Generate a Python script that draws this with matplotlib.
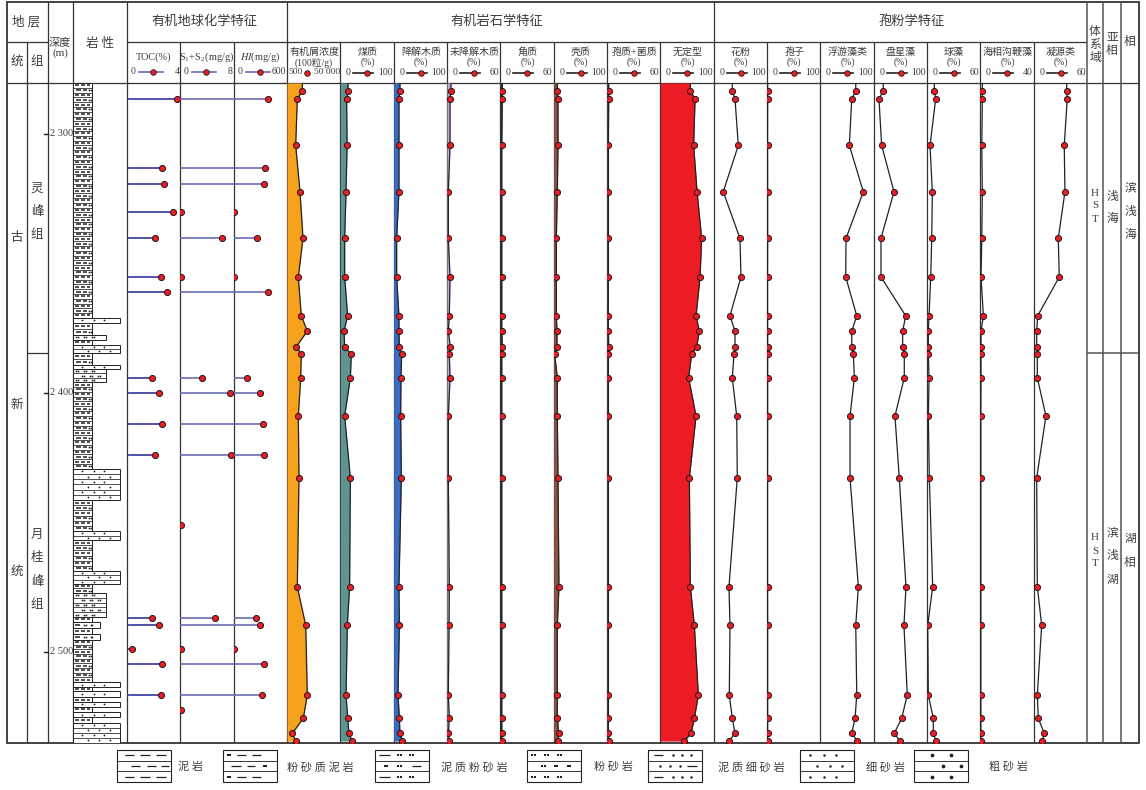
import numpy as np
import matplotlib
matplotlib.use("Agg")
import matplotlib.pyplot as plt
from matplotlib.patches import Rectangle

plt.rcParams['font.family'] = ['Liberation Serif', 'Noto Sans CJK SC', 'DejaVu Sans']
plt.rcParams['mathtext.fontset'] = 'stix'

nan = np.nan
# ---------------------------------------------------------------- data
# organic petrology / palynology samples (depth, m)
petro_depth = [2283.4, 2286.4, 2304.4, 2322.3, 2340.3, 2355.2, 2370.2, 2376.1, 2382.1,
               2385.1, 2394.1, 2408.9, 2432.8, 2474.8, 2489.7, 2516.6, 2525.6, 2531.4, 2534.4]
organic_conc = [14700, 10070, 8580, 12570, 15360, 10990, 13780, 19350, 9140, 13780,
                13220, 10990, 11640, 10070, 17870, 19350, 15640, 5420, 8580]
vitrinite = [14.4, 11.8, 12.6, 10.7, 8.1, 8.1, 13.7, 6.9, 8.1, 20.6,
             18.8, 8.1, 18.8, 17.4, 13.1, 10.7, 13.7, 16.3, 22.0]
degraded_wood = [11.8, 9.9, 9.9, 9.9, 5.6, 5.6, 9.9, 9.9, 10.7, 15.0,
                 13.7, 13.1, 14.4, 9.9, 10.7, 8.1, 10.7, 11.8, 16.3]
undegraded_wood = [4.5, 3.4, 3.4, 1.5, 1.5, 3.4, 2.6, 1.5, 3.7, 2.6,
                   3.4, 1.5, 1.5, 2.6, 2.3, 1.5, 2.6, 1.5, 2.6]
cutinite = [2.2, 2.2, 1.6, 1.6, 1.6, 1.6, 1.6, 1.6, 2.2, 1.6,
            1.6, 1.6, 1.6, 1.6, 1.6, 1.6, 1.6, 1.7, 1.6]
exinite = [6.9, 8.1, 8.1, 6.9, 5.0, 5.0, 5.0, 6.2, 6.2, 1.9,
           6.9, 6.9, 8.1, 9.9, 6.9, 6.9, 6.9, 9.4, 8.1]
sporo_fungal = [1.9, 1.9, 1.6, 1.6, 1.6, 1.6, 1.4, 1.6, 1.9, 1.6,
                1.6, 1.6, 1.6, 1.6, 1.6, 1.6, 1.6, 1.6, 1.9]
amorphous = [56.3, 65.1, 62.5, 68.9, 77.5, 74.5, 67.0, 73.2, 68.1, 58.7,
             53.1, 67.0, 54.4, 56.3, 63.8, 71.3, 63.8, 57.6, 45.0]
pollen = [34.9, 40.0, 46.2, 18.0, 49.3, 51.2, 30.6, 40.0, 40.0, 38.1,
          34.9, 43.2, 44.3, 28.7, 30.6, 29.3, 34.9, 40.0, 28.7]
spores = [1.2, 1.2, 1.0, 1.2, 1.2, 1.0, 1.0, 1.2, 1.2, 1.2,
          1.2, 1.2, 1.0, 1.0, 1.2, 1.2, 1.2, 1.2, 1.2]
plankton_algae = [66.4, 58.9, 54.4, 80.6, 48.2, 47.6, 68.3, 58.9, 58.9, 61.9,
                  63.8, 55.7, 55.7, 71.3, 66.4, 68.3, 65.1, 58.9, 69.4]
pediastrum = [18.0, 9.9, 15.0, 38.1, 13.7, 13.7, 60.0, 54.4, 54.4, 57.4,
              57.4, 39.9, 48.0, 60.6, 56.8, 63.0, 52.5, 38.6, 49.3]
sphaeroids = [8.2, 9.8, 3.4, 6.0, 5.3, 4.2, 2.3, 1.5, 1.5, 1.5,
              2.3, 1.5, 2.6, 6.4, 0.8, 1.5, 7.1, 7.1, 10.1]
dinoflagellates = [1.5, 1.5, 1.1, 1.5, 1.1, 0.5, 2.3, 0.5, 0.5, 0.5,
                   0.5, 0.4, 0.4, 0.4, 0.4, 0.4, 0.4, 0.4, 0.4]
acritarchs = [37.1, 37.8, 34.4, 35.2, 27.7, 28.8, 4.5, 3.4, 3.4, 4.1,
              4.1, 13.8, 3.4, 4.1, 9.0, 4.1, 5.2, 11.9, 9.7]

# organic geochemistry samples
geo_depth = [2286.5, 2313.2, 2319.3, 2330.2, 2340.2, 2355.2, 2361.1, 2394.1, 2399.9,
             2411.9, 2423.9, 2450.8, 2486.8, 2489.7, 2498.7, 2504.6, 2516.5, 2522.5]
toc = [3.73, 2.60, 2.77, 3.48, 2.10, 2.58, 2.98, 1.90, 2.43,
       2.60, 2.10, nan, 1.85, 2.43, 0.40, 2.65, 2.53, nan]
s1s2 = [9.0, 9.0, 9.0, 0.1, 6.25, 0.1, 9.0, 3.25, 7.5,
        9.0, 7.6, 0.1, 5.15, 9.0, 0.1, 9.0, 9.0, 0.1]
hi = [383, 357, 338, 2, 267, 2, 386, 154, 293,
      330, 338, nan, 255, 293, 2, 338, 315, nan]

# lithology beds
litho_top = [2280.3, 2371.0, 2373.0, 2377.6, 2379.5, 2381.5, 2384.6, 2389.2, 2390.7, 2395.8,
             2429.3, 2441.3, 2453.3, 2456.8, 2468.7, 2473.7, 2477.2, 2486.5, 2488.4, 2490.7,
             2493.1, 2495.4, 2511.6, 2513.5, 2515.1, 2517.4, 2519.3, 2521.2, 2523.2, 2525.1,
             2527.4]
litho_bottom = litho_top[1:] + [2535.1]
litho_type = ['粉砂质泥岩', '细砂岩', '粉砂质泥岩', '粉砂岩', '粉砂质泥岩', '细砂岩', '粉砂质泥岩',
              '细砂岩', '粉砂岩', '粉砂质泥岩', '细砂岩', '粉砂质泥岩', '细砂岩', '粉砂质泥岩',
              '细砂岩', '粉砂质泥岩', '粉砂岩', '粉砂质泥岩', '泥质粉砂岩', '粉砂质泥岩',
              '泥质粉砂岩', '粉砂质泥岩', '细砂岩', '粉砂质泥岩', '细砂岩', '粉砂质泥岩',
              '细砂岩', '粉砂质泥岩', '细砂岩', '粉砂质泥岩', '细砂岩']

depth_ticks = [2300, 2400, 2500]
depth_tick_labels = ['2 300', '2 400', '2 500']

geo_names = ['TOC(%)', r'S$_\mathregular{1}$+S$_\mathregular{2}$(mg/g)', r'$\mathit{HI}$(mg/g)']
geo_max = [4, 8, 600]
geo_max_labels = ['4', '8', '600']

petro_names = ['有机屑浓度', '煤质', '降解木质', '未降解木质', '角质', '壳质', '孢质+菌质', '无定型']
petro_units = ['(100粒/g)', '(%)', '(%)', '(%)', '(%)', '(%)', '(%)', '(%)']
petro_lims = [(500, 50000), (0, 100), (0, 100), (0, 60), (0, 60), (0, 100), (0, 60), (0, 100)]
petro_lim_labels = [('500', '50 000'), ('0', '100'), ('0', '100'), ('0', '60'), ('0', '60'),
                    ('0', '100'), ('0', '60'), ('0', '100')]

paly_names = ['花粉', '孢子', '浮游藻类', '盘星藻', '球藻', '海相沟鞭藻', '凝源类']
paly_max = [100, 100, 100, 100, 60, 40, 60]

legend_types = ['泥岩', '粉砂质泥岩', '泥质粉砂岩', '粉砂岩', '泥质细砂岩', '细砂岩', '粗砂岩']

# ---------------------------------------------------------------- style / layout
W, H = 1146, 790
Y_TOP, Y_BOT = 83, 743
X_COL0, COL_W = 127.0, 960.0 / 18
PX_PER_M = 2.59
D_TOP = 2300 + (Y_TOP - 134) / PX_PER_M
D_BOT = 2300 + (Y_BOT - 134) / PX_PER_M
RED = '#e61e25'
EDGE = '#2a1515'
TC = '#3c3c3c'
LC = '#333333'
MS = 4.4
petro_colors = ['#f6a21d', '#5e9591', '#3b6cc0', '#c9a7d8', '#3a3a3a', '#8a5343', '#555555', '#ed1c24']
LITHO_W = {'泥岩': 19, '粉砂质泥岩': 19, '泥质粉砂岩': 27, '粉砂岩': 33,
           '泥质细砂岩': 40, '细砂岩': 47, '粗砂岩': 50}
PATTERNS = {
    '泥岩': ([('d', .14, .32), ('d', .43, .61), ('d', .72, .90)],
             [('d', .26, .43), ('d', .55, .72), ('d', .82, .97)]),
    '粉砂质泥岩': ([('p', .11), ('d', .25, .42), ('d', .53, .70)],
                   [('d', .15, .33), ('d', .45, .60), ('p', .78)]),
    '泥质粉砂岩': ([('d', .07, .27), ('p', .45), ('p', .68)],
                   [('p', .2), ('p', .45), ('d', .68, .85)]),
    '粉砂岩': ([('p', .12), ('p', .36), ('p', .60)],
               [('p', .30), ('p', .54), ('p', .78)]),
    '泥质细砂岩': ([('d', .12, .28), ('s', .47), ('s', .63), ('s', .80)],
                   [('s', .22), ('s', .41), ('s', .59), ('d', .72, .90)]),
    '细砂岩': ([('s', .19), ('s', .44), ('s', .66)],
               [('s', .31), ('s', .56), ('s', .78)]),
    '粗砂岩': ([('c', .34), ('c', .69)],
               [('c', .53), ('c', .87)]),
}
# denser texture used for the thin mud beds inside the lithology column
LITHO_PATTERNS = dict(PATTERNS)
LITHO_PATTERNS['粉砂质泥岩'] = ([('d', .08, .30), ('d', .42, .64), ('d', .76, .92)],
                                [('d', .18, .40), ('d', .52, .74), ('p', .88)])

fig = plt.figure(figsize=(W / 100, H / 100), dpi=100)
fig.patch.set_facecolor('white')
ax0 = fig.add_axes([0, 0, 1, 1])
ax0.set_xlim(0, W)
ax0.set_ylim(H, 0)
ax0.axis('off')


def col_x(i):
    return X_COL0 + i * COL_W


def col_axes(x0, x1, xlim):
    ax = fig.add_axes([x0 / W, 1 - Y_BOT / H, (x1 - x0) / W, (Y_BOT - Y_TOP) / H])
    ax.set_xlim(*xlim)
    ax.set_ylim(D_BOT, D_TOP)
    ax.axis('off')
    return ax


def pattern(ax, x0, x1, y0, y1, kind, nrows, pats=PATTERNS, lw=0.6, ms=1.3, dash_lw=0.8,
            pair_gap=1.6, row_c='#222'):
    ax.add_patch(Rectangle((x0, min(y0, y1)), x1 - x0, abs(y1 - y0), fc='white', ec='#222', lw=lw, zorder=2))
    hs = np.linspace(y0, y1, nrows + 1)
    for h in hs[1:-1]:
        ax.plot([x0, x1], [h, h], color=row_c, lw=lw * 0.8, zorder=3)
    w = x1 - x0
    for r in range(nrows):
        yc = (hs[r] + hs[r + 1]) / 2
        for item in pats[kind][r % 2]:
            t = item[0]
            if t == 'd':
                ax.plot([x0 + item[1] * w, x0 + item[2] * w], [yc, yc], color='#222', lw=dash_lw,
                        solid_capstyle='butt', zorder=4)
            elif t == 'p':
                cx = x0 + item[1] * w
                ax.plot([cx - pair_gap / 2, cx + pair_gap / 2], [yc, yc], 's', ms=ms * 0.9, color='#222',
                        mew=0, zorder=4)
            elif t == 's':
                ax.plot([x0 + item[1] * w], [yc], 'o', ms=ms, color='#222', mew=0, zorder=4)
            elif t == 'c':
                ax.plot([x0 + item[1] * w], [yc], 'o', ms=ms * 1.5, color='#222', mew=0, zorder=4)


def txt(x, y, s, size=7.5, **kw):
    kw.setdefault('ha', 'center')
    kw.setdefault('va', 'center')
    ax0.text(x, y, s, fontsize=size, color=TC, **kw)


def vtext(x, ys, chars, size=8.5):
    for y, c in zip(ys, chars):
        txt(x, y, c, size=size)


# ---------------------------------------------------------------- table frame
def hl(y, x0, x1, lw=0.9, c=LC):
    ax0.plot([x0, x1], [y, y], color=c, lw=lw, solid_capstyle='butt')


def vl(x, y0, y1, lw=0.9, c=LC):
    ax0.plot([x, x], [y0, y1], color=c, lw=lw, solid_capstyle='butt')


ax0.add_patch(Rectangle((7, 2), 1132, 741, fill=False, ec='#222', lw=1.2))
hl(42, 7, 48)
hl(42, X_COL0, col_x(18))
hl(83, 7, 1139)
vl(27, 42, Y_BOT)
for x in [48, 73, X_COL0, col_x(3), col_x(11), col_x(18), 1103, 1121]:
    vl(x, 2, Y_BOT, c='#555' if x > 1000 else LC, lw=1.1 if x > 1000 else 0.9)
for i in range(1, 18):
    if i in (3, 11):
        continue
    vl(col_x(i), 42, Y_BOT)
hl(353, 27, 48)
hl(353, col_x(18), 1139, c='#555', lw=1.1)

# ---------------------------------------------------------------- header texts
txt(26, 22, '地 层', 9)
txt(17, 62, '统', 9)
txt(37, 62, '组', 9)
txt(60, 43, '深度', 8)
txt(60, 53, '(m)', 8)
txt(100, 44, '岩 性', 9)
txt(204, 22, '有机地球化学特征', 9.5)
txt(497, 22, '有机岩石学特征', 9.5)
txt(912, 22, '孢粉学特征', 9.5)
vtext(1095, [32, 45, 58], '体系域', 8.5)
vtext(1112, [38, 51], '亚相', 8.5)
txt(1130, 42, '相', 8.5)


def head_legend(x0, x1, y, lo, hi_lab, lcolor, dot_dx=26, lo_dx=6, line=(12, 36)):
    txt(x0 + lo_dx, y, lo, 7.0)
    ax0.plot([x0 + line[0], x0 + line[1]], [y, y], color=lcolor, lw=1.2)
    ax0.plot([x0 + dot_dx], [y], 'o', ms=4.0, mfc=RED, mec=EDGE, mew=0.6)
    txt(x1 - 1, y, hi_lab, 7.0, ha='right')


for k in range(3):
    x0, x1 = col_x(k), col_x(k + 1)
    txt((x0 + x1) / 2, 57, geo_names[k], 7.4)
    head_legend(x0, x1, 72, '0', geo_max_labels[k], '#6a6ab8')

for k in range(8):
    x0, x1 = col_x(3 + k), col_x(4 + k)
    txt((x0 + x1) / 2 + 0.5, 52, petro_names[k], 7.2)
    txt((x0 + x1) / 2 + 0.5, 62.5, petro_units[k], 7.0)
    lo, hi_lab = petro_lim_labels[k]
    if k == 0:
        txt(x0 + 1, 72.5, lo, 6.8, ha='left')
        ax0.plot([x0 + 19.5], [72.5], 'o', ms=4.0, mfc=RED, mec=EDGE, mew=0.6)
        txt(x1 - 0.5, 72.5, hi_lab, 6.8, ha='right')
    else:
        head_legend(x0, x1, 72.5, lo, hi_lab, '#222', dot_dx=27, lo_dx=8, line=(13, 33))

for k in range(7):
    x0, x1 = col_x(11 + k), col_x(12 + k)
    txt((x0 + x1) / 2 + 0.5, 52, paly_names[k], 7.2)
    txt((x0 + x1) / 2 + 0.5, 62.5, '(%)', 7.0)
    head_legend(x0, x1, 72.5, '0', str(paly_max[k]), '#222', dot_dx=27, lo_dx=8, line=(13, 33))

# left stratigraphy labels
txt(17, 238, '古', 9)
txt(17, 405, '新', 9)
txt(17, 572, '统', 9)
vtext(37, [189, 212, 235], '灵峰组', 9)
vtext(37, [535, 558, 582, 605], '月桂峰组', 9)
# right labels
vtext(1095, [193, 206, 219], 'HST', 8)
vtext(1112, [197, 219], '浅海', 8.5)
vtext(1130, [188, 212, 235], '滨浅海', 8.5)
vtext(1095, [538, 551, 564], 'HST', 8)
vtext(1112, [533, 556, 580], '滨浅湖', 8.5)
vtext(1130, [539, 563], '湖相', 8.5)

# ---------------------------------------------------------------- depth axis
axd = col_axes(40, 73, (40, 73))
for d, lab in zip(depth_ticks, depth_tick_labels):
    axd.plot([43.5, 47.5], [d, d], color='#222', lw=1.0)
    axd.text(49.5, d, lab, fontsize=7.5, color=TC, ha='left', va='center', clip_on=False)

# ---------------------------------------------------------------- lithology column
axl = col_axes(73, X_COL0, (0, X_COL0 - 73))
ROW_M = 1.85
for top, bot, kind in zip(litho_top, litho_bottom, litho_type):
    n = max(1, int(round((bot - top) / ROW_M)))
    pattern(axl, 0, LITHO_W[kind], top, bot, kind, n, pats=LITHO_PATTERNS, lw=0.7, ms=1.3,
            dash_lw=1.1, pair_gap=1.6)

# ---------------------------------------------------------------- geochemistry
geo_series = [toc, s1s2, hi]
geo_line_colors = ['#34349a', '#6c6cb8', '#6c6cb8']
for k in range(3):
    xmax = geo_max[k]
    ax = col_axes(col_x(k), col_x(k + 1), (0, xmax))
    for d, v in zip(geo_depth, geo_series[k]):
        if np.isnan(v):
            continue
        ax.plot([0, min(v, xmax)], [d, d], color=geo_line_colors[k], lw=1.2, solid_capstyle='butt')
        if v <= xmax:
            ax.plot([v], [d], 'o', ms=MS, mfc=RED, mec=EDGE, mew=0.7)

# ---------------------------------------------------------------- organic petrology
petro_series = [organic_conc, vitrinite, degraded_wood, undegraded_wood, cutinite,
                exinite, sporo_fungal, amorphous]
pd_ext = np.r_[D_TOP, petro_depth]
for k in range(8):
    lo, hi_v = petro_lims[k]
    ax = col_axes(col_x(3 + k), col_x(4 + k), (lo, hi_v))
    vals = np.asarray(petro_series[k], dtype=float)
    v_ext = np.r_[vals[0], vals]
    ax.fill_betweenx(pd_ext, lo, v_ext, color=petro_colors[k], lw=0)
    ax.plot(v_ext, pd_ext, color='#222', lw=0.9)
    ax.plot(vals, petro_depth, 'o', ms=MS, mfc=RED, mec=EDGE, mew=0.7)

# ---------------------------------------------------------------- palynology
paly_series = [pollen, spores, plankton_algae, pediastrum, sphaeroids, dinoflagellates, acritarchs]
for k in range(7):
    ax = col_axes(col_x(11 + k), col_x(12 + k), (0, paly_max[k]))
    vals = np.asarray(paly_series[k], dtype=float)
    ax.plot(np.r_[vals[0], vals], pd_ext, color='#222', lw=0.9)
    ax.plot(vals, petro_depth, 'o', ms=MS, mfc=RED, mec=EDGE, mew=0.7)

# ---------------------------------------------------------------- bottom legend
box_x = [117, 223, 375, 527, 648, 800, 914]
lab_x = [190, 320, 474, 613, 751, 885, 1008]
for bx, lx, kind in zip(box_x, lab_x, legend_types):
    pattern(ax0, bx, bx + 54, 750, 782, kind, 3, lw=0.8, ms=1.8, dash_lw=0.9, pair_gap=2.6)
    txt(lx, 767, ' '.join(kind), 8)

fig.savefig('out.png', dpi=100, facecolor='white')
